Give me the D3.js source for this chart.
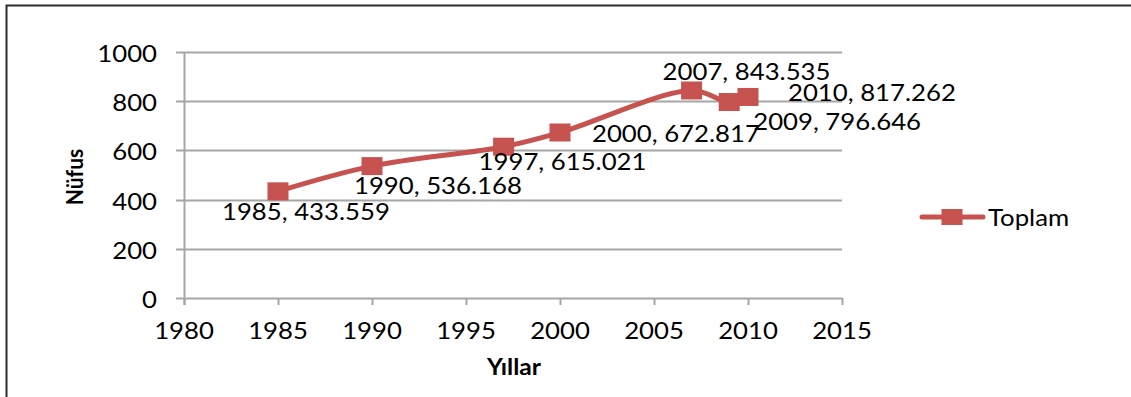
<!DOCTYPE html>
<html>
<head>
<meta charset="utf-8">
<script src="https://cdn.jsdelivr.net/npm/d3@7"></script>
<style>
  html, body { margin: 0; padding: 0; background: #fff; }
  svg { display: block; }
  text { font-family: Lato, "Noto Sans", sans-serif; fill: #000; }
</style>
</head>
<body>
<svg id="chart" width="1131" height="397"></svg>
<script>
// Population (Nüfus) by year – series "Toplam"
const years = [1985, 1990, 1997, 2000, 2007, 2009, 2010];
const toplam = [433.559, 536.168, 615.021, 672.817, 843.535, 796.646, 817.262];
const xTicks = [1980, 1985, 1990, 1995, 2000, 2005, 2010, 2015];
const yTicks = [0, 200, 400, 600, 800, 1000];
const seriesName = "Toplam";
const xTitle = "Yıllar";
const yTitle = "Nüfus";

// where each data label sits relative to its point: [dx, dy] to text start / baseline
const labelOffsets = [[-56, 29], [-18, 28], [-25, 23], [32, 10], [-29, -10], [24, 28], [40, 4]];

const RED = "#c6534f";
const GRID = "#a6a6a6";
const SX = 1.12; // horizontal widening of glyphs
const FS = 23;

const svg = d3.select("#chart");
svg.append("rect").attr("width", 1131).attr("height", 397).attr("fill", "#fff");

// frame edges
svg.append("path")
  .attr("d", "M6.5,397 V5.5 H1131")
  .attr("fill", "none").attr("stroke", "#2b2b2b").attr("stroke-width", 2);

const x = d3.scaleLinear().domain([1980, 2015]).range([184, 842]);
const y = d3.scaleLinear().domain([0, 1000]).range([298, 52]);

const fmtVal = d3.format(".3f");

function addText(g, str, px, py, anchor, opts = {}) {
  const t = g.append("text")
    .attr("transform", `translate(${px},${py}) scale(${opts.sx || SX},1)`)
    .attr("text-anchor", anchor)
    .style("font-size", (opts.size || FS) + "px")
    .style("font-weight", opts.weight || "normal")
    .text(str);
  return t;
}

// horizontal gridlines (extend left as the tick marks)
const grid = svg.append("g");
grid.selectAll("line").data(yTicks).join("line")
  .attr("x1", 176).attr("x2", 842)
  .attr("y1", d => Math.round(y(d)) + 0.5).attr("y2", d => Math.round(y(d)) + 0.5)
  .attr("stroke", GRID).attr("stroke-width", 2);

// y axis line
svg.append("line")
  .attr("x1", 184.5).attr("x2", 184.5).attr("y1", y(1000)).attr("y2", y(0) + 7)
  .attr("stroke", GRID).attr("stroke-width", 2);

// x tick marks
svg.append("g").selectAll("line").data(xTicks).join("line")
  .attr("x1", d => Math.round(x(d)) + 0.5).attr("x2", d => Math.round(x(d)) + 0.5)
  .attr("y1", y(0)).attr("y2", y(0) + 7)
  .attr("stroke", GRID).attr("stroke-width", 2);

// y tick labels
const yl = svg.append("g");
yTicks.forEach(v => addText(yl, String(v), 157, y(v) + 10, "end"));

// x tick labels
const xl = svg.append("g");
xTicks.forEach(v => addText(xl, String(v), x(v), 339, "middle"));

// axis titles
addText(svg, xTitle, 514, 375, "middle", { size: 22, weight: "bold", sx: 1.12 });
svg.append("text")
  .attr("transform", `translate(83,177) rotate(-90) scale(1,1.12)`)
  .attr("text-anchor", "middle")
  .style("font-size", "21px").style("font-weight", "bold")
  .text(yTitle);

// series line
const pts = years.map((yr, i) => [x(yr), y(toplam[i])]);
svg.append("path")
  .attr("d", d3.line().curve(d3.curveCatmullRom.alpha(0.5))(pts))
  .attr("fill", "none").attr("stroke", RED).attr("stroke-width", 5)
  .attr("stroke-linejoin", "round").attr("stroke-linecap", "round");

// square markers
const MW = 21, MH = 18;
svg.append("g").selectAll("rect").data(pts).join("rect")
  .attr("x", d => d[0] - MW / 2).attr("y", d => d[1] - MH / 2)
  .attr("width", MW).attr("height", MH).attr("fill", RED);

// data labels
const dl = svg.append("g");
pts.forEach((p, i) => {
  const [dx, dy] = labelOffsets[i];
  addText(dl, `${years[i]}, ${fmtVal(toplam[i])}`, p[0] + dx, p[1] + dy, "start");
});

// legend
const lg = svg.append("g");
lg.append("line").attr("x1", 922).attr("x2", 983).attr("y1", 217).attr("y2", 217)
  .attr("stroke", RED).attr("stroke-width", 5).attr("stroke-linecap", "round");
lg.append("rect").attr("x", 952 - MW / 2).attr("y", 217 - 8).attr("width", MW).attr("height", 16)
  .attr("fill", RED);
addText(lg, seriesName, 988, 226, "start");
</script>
</body>
</html>
